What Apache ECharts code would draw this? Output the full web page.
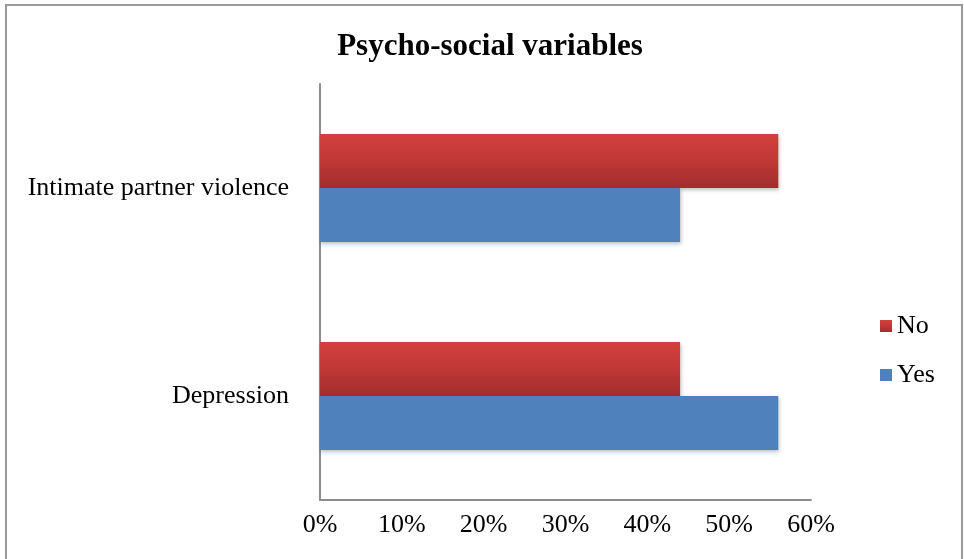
<!DOCTYPE html>
<html>
<head>
<meta charset="utf-8">
<script src="https://cdn.jsdelivr.net/npm/echarts@6/dist/echarts.min.js"></script>
<style>
  html, body { margin: 0; padding: 0; background: #ffffff; }
  #chart { width: 964px; height: 559px; }
</style>
</head>
<body>
<div id="chart"></div>
<script>
// Psycho-social variables: share of respondents answering Yes / No
const categories = ['Depression', 'Intimate partner violence'];
const yesValues = [0.56, 0.44];
const noValues = [0.44, 0.56];
const tickLabels = ['0%', '10%', '20%', '30%', '40%', '50%', '60%'];

const serif = '"Liberation Serif", "DejaVu Serif", serif';

const chart = echarts.init(document.getElementById('chart'), null, { renderer: 'canvas' });

const barShadow = {
  shadowColor: 'rgba(0,0,0,0.25)',
  shadowBlur: 4,
  shadowOffsetX: 1,
  shadowOffsetY: 2
};

chart.setOption({
  backgroundColor: '#ffffff',
  animation: false,
  title: {
    text: 'Psycho-social variables',
    left: 485,
    textAlign: 'center',
    top: 26,
    textStyle: { fontFamily: serif, fontSize: 31, fontWeight: 'bold', color: '#000000' }
  },
  legend: {
    orient: 'vertical',
    left: 875,
    top: 308,
    itemWidth: 12,
    itemHeight: 12,
    itemGap: 23,
    icon: 'rect',
    data: ['No', 'Yes'],
    textStyle: { fontFamily: serif, fontSize: 26, color: '#000000' }
  },
  grid: { left: 320, right: 153, top: 84, bottom: 59 },
  xAxis: {
    type: 'value',
    min: 0,
    max: 0.6,
    interval: 0.1,
    axisLine: { show: true, lineStyle: { color: '#8c8c8c', width: 2 } },
    axisTick: { show: false },
    splitLine: { show: false },
    axisLabel: {
      margin: 12,
      fontFamily: serif,
      fontSize: 26,
      color: '#000000',
      formatter: (v) => tickLabels[Math.round(v * 10)]
    }
  },
  yAxis: {
    type: 'category',
    data: categories,
    axisLine: { show: true, lineStyle: { color: '#8c8c8c', width: 2 } },
    axisTick: { show: false },
    axisLabel: { margin: 31, fontFamily: serif, fontSize: 26, color: '#000000' }
  },
  series: [
    {
      name: 'No',
      type: 'bar',
      data: noValues,
      barGap: '0%',
      barCategoryGap: '48%',
      itemStyle: Object.assign({
        color: new echarts.graphic.LinearGradient(0, 0, 0, 1, [
          { offset: 0, color: '#d3403d' },
          { offset: 0.5, color: '#c03836' },
          { offset: 1, color: '#a22d2c' }
        ])
      }, barShadow)
    },
    {
      name: 'Yes',
      type: 'bar',
      data: yesValues,
      barGap: '0%',
      barCategoryGap: '48%',
      itemStyle: Object.assign({ color: '#4f81bd' }, barShadow)
    }
  ],
  graphic: [
    {
      type: 'rect',
      shape: { x: 6, y: 5, width: 956, height: 560 },
      style: { fill: 'none', stroke: '#9a9a9a', lineWidth: 2 },
      silent: true
    }
  ]
});
</script>
</body>
</html>
